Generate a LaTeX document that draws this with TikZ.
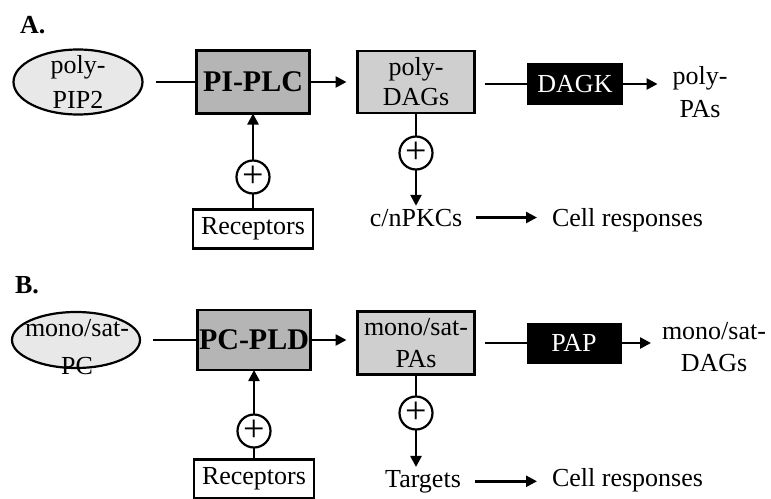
\documentclass[tikz,border=0pt]{standalone}
\usepackage{fontspec}
\setmainfont{Liberation Serif}
\usetikzlibrary{arrows.meta,shapes.geometric}
\begin{document}
\begin{tikzpicture}[x=1pt,y=-1pt,
  font=\fontsize{26}{31}\selectfont,
  every node/.style={inner sep=0pt, outer sep=0pt},
  ln/.style={line width=2.5pt},
  arr/.style={ln,-{Triangle[length=11pt,width=11pt]}},
  ell/.style={ellipse,draw,line width=2.2pt,fill=gray!18},
  enz/.style={draw,line width=2.2pt,fill=gray!58,minimum width=113pt,minimum height=63pt,font=\fontsize{30}{30}\selectfont\bfseries},
  prod/.style={draw,line width=2.2pt,fill=gray!38,minimum width=117pt,minimum height=62pt,align=center},
  kin/.style={draw,fill=black,text=white,minimum width=95pt,minimum height=41pt},
  rec/.style={draw,line width=2.2pt,fill=white,minimum width=120pt,minimum height=39pt},
  pls/.style={circle,draw,line width=2.2pt,fill=white,minimum size=33pt,font=\fontsize{38}{38}\selectfont},
  txt/.style={inner sep=3pt,align=center},
  lbl/.style={anchor=base west,font=\fontsize{26}{26}\selectfont\bfseries},
]
\useasboundingbox (0,0) rectangle (771,498);

% ---------- A ----------
\node[lbl] (la) at (20,33) {A.};
\node[ell, minimum width=129pt, minimum height=65pt] (pip) at (78,82) {};
\node[txt, font=\fontsize{26}{35}\selectfont] (pipt) at (78,82) {poly-\\PIP2};
\node[enz] (plc) at (253,82) {PI-PLC};
\node[prod, font=\fontsize{26}{30}\selectfont] (dags) at (416,82) {poly-\\DAGs};
\node[kin] (dagk) at (575,84) {DAGK};
\node[txt, font=\fontsize{26}{33}\selectfont] (pas) at (700,92) {poly-\\PAs};
\node[pls] (c1) at (253,177) {+};
\node[rec] (rec1) at (253,229) {Receptors};
\node[pls] (c2) at (416,153) {+};
\node[txt, anchor=base] (pkc) at (416,226) {c/nPKCs};
\node[txt, anchor=base west] (cell1) at (549,226) {Cell responses};

\draw[ln, shorten <=13pt] (pip.east) -- (plc.west);
\draw[arr, shorten >=11pt] (plc.east) -- (dags.west);
\draw[ln, shorten <=10pt] (dags.east |- dagk.west) -- (dagk.west);
\draw[arr, shorten >=12pt] (dagk.east) -- (pas.west |- dagk.east);
\draw[ln] (rec1.north) -- (c1.south);
\draw[arr] (c1.north) -- (plc.south);
\draw[ln] (dags.south) -- (c2.north);
\draw[arr] (c2.south) -- (c2.south |- pkc.north);
\draw[arr, shorten <=11pt, shorten >=12pt] (pkc.east) -- (cell1.west |- pkc.east);

% ---------- B ----------
\node[lbl] (lb) at (15,293) {B.};
\node[ell, minimum width=128pt, minimum height=56pt] (pc) at (76,340) {};
\node[txt, font=\fontsize{26}{38}\selectfont] (pct) at (77,347) {mono/sat-\\PC};
\node[enz, minimum height=60pt] (pld) at (254,340) {PC-PLD};
\node[prod, minimum height=63pt, font=\fontsize{26}{32}\selectfont] (pas2) at (416,343) {mono/sat-\\PAs};
\node[kin, minimum width=94pt, minimum height=40pt] (pap) at (574,343) {PAP};
\node[txt, font=\fontsize{26}{32}\selectfont] (dags2) at (714,347) {mono/sat-\\DAGs};
\node[pls] (c3) at (254,431) {+};
\node[rec] (rec2) at (254,479) {Receptors};
\node[pls] (c4) at (416,413) {+};
\node[txt, anchor=base] (tgt) at (423,487) {Targets};
\node[txt, anchor=base west] (cell2) at (549,486) {Cell responses};

\draw[ln, shorten <=13pt] (pc.east) -- (pld.west);
\draw[arr, shorten >=11pt] (pld.east) -- (pas2.west |- pld.east);
\draw[ln, shorten <=10pt] (pas2.east |- pap.west) -- (pap.west);
\draw[arr, shorten >=8pt] (pap.east) -- (dags2.west |- pap.east);
\draw[ln] (rec2.north) -- (c3.south);
\draw[arr] (c3.north) -- (pld.south);
\draw[ln] (pas2.south) -- (c4.north);
\draw[arr] (c4.south) -- (c4.south |- tgt.north);
\draw[arr, shorten <=11pt, shorten >=12pt] (tgt.east) -- (cell2.west |- tgt.east);
\end{tikzpicture}
\end{document}
